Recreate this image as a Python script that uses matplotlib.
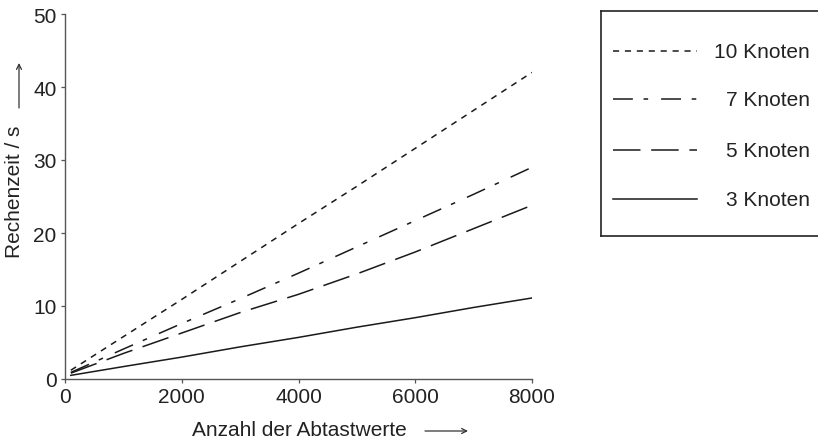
import matplotlib
matplotlib.use('Agg')
from matplotlib import pyplot as plt

plt.rcParams['font.family'] = ['Liberation Sans', 'DejaVu Sans']

# Abtastwerte und Rechenzeiten
samples = [100, 1000, 2000, 3000, 4000, 5000, 6000, 7000, 8000]
t_10 = [1.2, 5.8, 10.9, 16.1, 21.3, 26.4, 31.6, 36.8, 42.0]
t_7 = [0.9, 4.1, 7.6, 11.0, 14.5, 18.1, 21.7, 25.3, 29.0]
t_5 = [0.8, 3.5, 6.3, 9.1, 11.6, 14.4, 17.4, 20.6, 23.8]
t_3 = [0.5, 1.7, 3.0, 4.4, 5.7, 7.1, 8.4, 9.8, 11.1]

labels = ['10 Knoten', '7 Knoten', '5 Knoten', '3 Knoten']
series = [t_10, t_7, t_5, t_3]
styles = [(0, (4, 3.8)), (0, (13, 7, 3, 8.5)), (0, (18, 7)), '-']

xticks = [0, 2000, 4000, 6000, 8000]
yticks = [0, 10, 20, 30, 40, 50]

fs = 15

fig = plt.figure(figsize=(8.18, 4.39), dpi=100)
ax = fig.add_axes([65 / 818, 1 - 380 / 439, 467 / 818, 365 / 439])

for vals, ls in zip(series, styles):
    ax.plot(samples, vals, color='#1a1a1a', lw=1.1, linestyle=ls)

ax.set_xlim(0, 8000)
ax.set_ylim(0, 50)
ax.set_xticks(xticks)
ax.set_yticks(yticks)
for s in ['top', 'right']:
    ax.spines[s].set_visible(False)
for s in ['left', 'bottom']:
    ax.spines[s].set_color('#555555')
    ax.spines[s].set_linewidth(1.0)
ax.tick_params(axis='both', which='major', labelsize=fs, length=3,
               width=0.9, color='#555555', labelcolor='#222222', pad=3)

# Achsenbeschriftungen mit Pfeilen
fig.text(299 / 818, 1 - 431 / 439, 'Anzahl der Abtastwerte', fontsize=fs,
         color='#222222', ha='center', va='center')
fig.text(15 / 818, 1 - 192 / 439, 'Rechenzeit / s', fontsize=fs,
         color='#222222', ha='center', va='center', rotation=90)
ax.annotate('', xy=(468 / 818, 1 - 432 / 439), xytext=(425 / 818, 1 - 432 / 439),
            xycoords='figure fraction',
            arrowprops=dict(arrowstyle='->', lw=0.9, color='#333333',
                            shrinkA=0, shrinkB=0, mutation_scale=9))
ax.annotate('', xy=(19 / 818, 1 - 64 / 439), xytext=(19 / 818, 1 - 109 / 439),
            xycoords='figure fraction',
            arrowprops=dict(arrowstyle='->', lw=0.9, color='#333333',
                            shrinkA=0, shrinkB=0, mutation_scale=9))

# Legende als eigener Kasten (rechts offen)
lg = fig.add_axes([601 / 818, 1 - 237 / 439, 222 / 818, 225 / 439])
lg.set_xlim(601, 823)
lg.set_ylim(237, 12)
lg.set_xticks([])
lg.set_yticks([])
lg.spines['right'].set_visible(False)
for s in ['left', 'top', 'bottom']:
    lg.spines[s].set_color('#222222')
    lg.spines[s].set_linewidth(1.2)
rows = [52, 100, 151, 200]
for lab, ls, yy in zip(labels, styles, rows):
    lg.plot([613, 697], [yy, yy], color='#1a1a1a', lw=1.1, linestyle=ls)
    lg.text(810, yy, lab, fontsize=fs, color='#222222', ha='right', va='center')

plt.savefig('out.png', dpi=100)
